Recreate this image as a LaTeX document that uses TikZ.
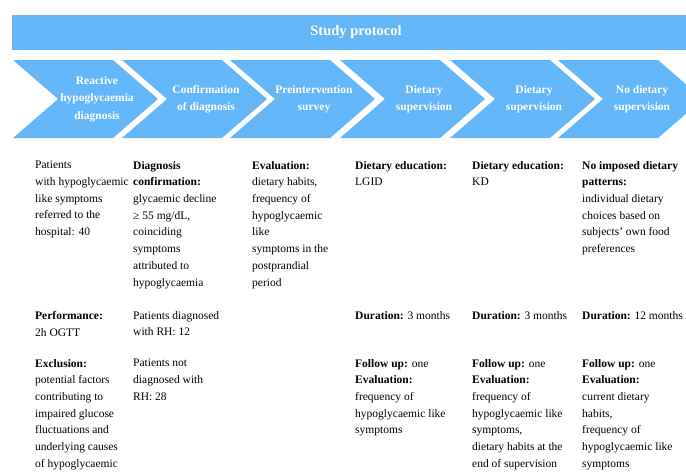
\documentclass[tikz,border=0pt]{standalone}
\usepackage{fontspec}
\setmainfont{Liberation Serif}
\definecolor{protoblue}{RGB}{99,182,248}
\tikzset{
  chevron/.style={fill=protoblue},
  steplabel/.style={text=white, align=center, inner sep=0pt,
    font=\fontsize{11.5}{17.5}\selectfont\bfseries},
  coltext/.style={anchor=north west, align=left, inner sep=0pt,
    font=\fontsize{11.5}{16.7}\selectfont},
}

\begin{document}
\begin{tikzpicture}[x=1pt, y=-1pt]
  \useasboundingbox (0,0) rectangle (686,475);
  \clip (0,0) rectangle (686,475);
  \fill[protoblue] (12,15) rectangle (700,50);
  \node[text=white, font=\fontsize{14.5}{16}\selectfont\bfseries] (title) at (356,32.5) {Study protocol};
  \foreach \x/\name/\txt in {13/diag/{Reactive\\hypoglycaemia\\diagnosis},
      122/confirm/{Confirmation\\of diagnosis}, 230/survey/{Preintervention\\survey},
      340/lgidsup/{Dietary\\supervision}, 450/kdsup/{Dietary\\supervision},
      558/nosup/{No dietary\\supervision}}{
    \fill[chevron] (\x,60) -- ++(100,0) -- ++(45,39) -- ++(-45,39) -- ++(-100,0) -- ++(45,-39) -- cycle;
    \node[steplabel] (\name) at (\x+84,99) {\txt};
  }

  \node[coltext] (referred) at (35,161) {Patients\\with hypoglycaemic\\like symptoms\\referred to the\\hospital: 40};
  \node[coltext] (ogtt) at (35,311) {\textbf{Performance:}\\2h OGTT};
  \node[coltext] (exclusion) at (35,359) {\textbf{Exclusion:}\\potential factors\\contributing to\\impaired glucose\\fluctuations and\\underlying causes\\of hypoglycaemic\\like symptoms};

  \node[coltext] (criteria) at (133,161) {\textbf{Diagnosis}\\\textbf{confirmation:}\\glycaemic decline\\≥ 55 mg/dL,\\coinciding\\symptoms\\attributed to\\hypoglycaemia};
  \node[coltext] (rhyes) at (133,311) {Patients diagnosed\\with RH: 12};
  \node[coltext] (rhno) at (133,359) {Patients not\\diagnosed with\\RH: 28};

  \node[coltext] (habits) at (252,161) {\textbf{Evaluation:}\\dietary habits,\\frequency of\\hypoglycaemic\\like\\symptoms in the\\postprandial\\period};

  \node[coltext] (lgid) at (355,161) {\textbf{Dietary education:}\\LGID};
  \node[coltext] (lgidtime) at (355,311) {\textbf{Duration:} 3 months};
  \node[coltext] (lgidfollow) at (355,359) {\textbf{Follow up:} one\\\textbf{Evaluation:}\\frequency of\\hypoglycaemic like\\symptoms};

  \node[coltext] (kd) at (472,161) {\textbf{Dietary education:}\\KD};
  \node[coltext] (kdtime) at (472,311) {\textbf{Duration:} 3 months};
  \node[coltext] (kdfollow) at (472,359) {\textbf{Follow up:} one\\\textbf{Evaluation:}\\frequency of\\hypoglycaemic like\\symptoms,\\dietary habits at the\\end of supervision};

  \node[coltext] (free) at (582,161) {\textbf{No imposed dietary}\\\textbf{patterns:}\\individual dietary\\choices based on\\subjects' own food\\preferences};
  \node[coltext] (freetime) at (582,311) {\textbf{Duration:} 12 months};
  \node[coltext] (freefollow) at (582,359) {\textbf{Follow up:} one\\\textbf{Evaluation:}\\current dietary\\habits,\\frequency of\\hypoglycaemic like\\symptoms};
\end{tikzpicture}
\end{document}
